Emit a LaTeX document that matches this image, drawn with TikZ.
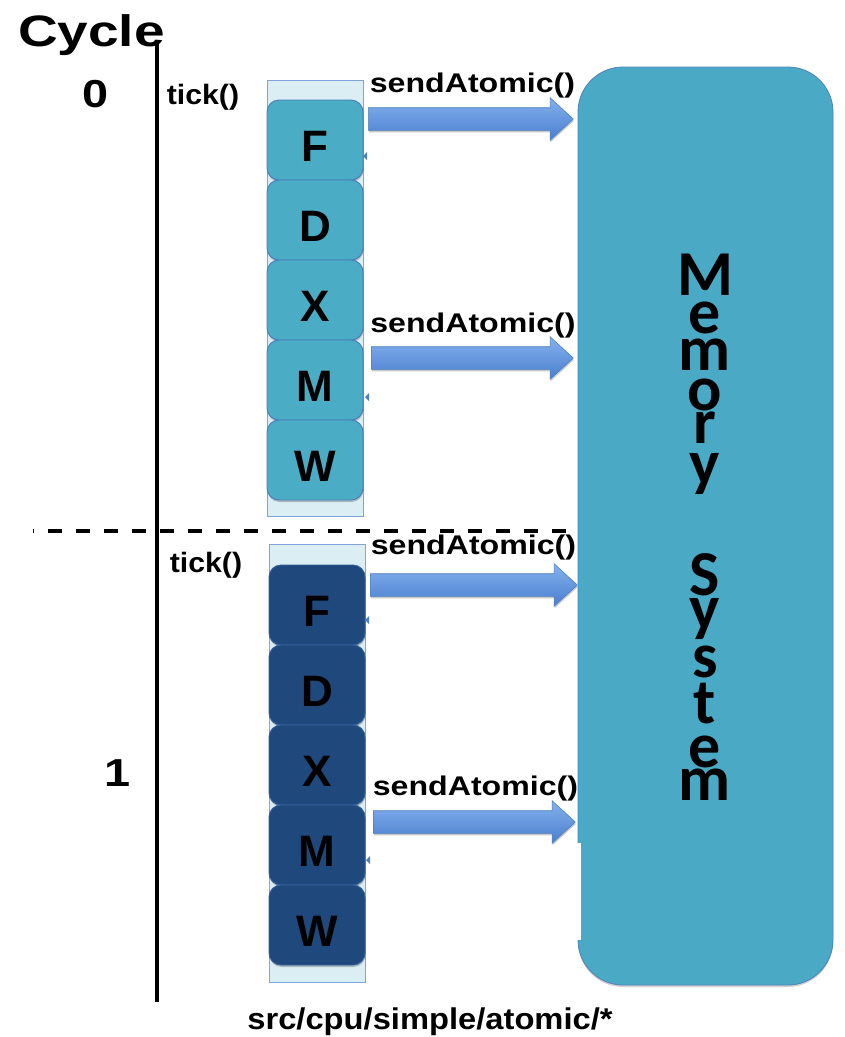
\documentclass[tikz,border=0pt]{standalone}
\usepackage{fontspec}
\usepackage{graphicx}
\setmainfont{Liberation Sans}
\newfontfamily\memfont{Carlito}
\usetikzlibrary{shapes.arrows,shadows}

\definecolor{stageteal}{HTML}{4BACC6}
\definecolor{stagenavy}{HTML}{1F487C}
\definecolor{stageedge}{HTML}{4A7EBB}
\definecolor{navyedge}{HTML}{34629E}
\definecolor{slotfill}{HTML}{DBEEF4}
\definecolor{slotedge}{HTML}{7EA6DC}
\definecolor{arrowtop}{HTML}{84B1EE}
\definecolor{arrowbot}{HTML}{4A7FCF}
\definecolor{arrowedge}{HTML}{4F81BD}
\definecolor{memfill}{HTML}{4AAAC5}

\newcommand\fsz[1]{\fontsize{#1}{#1}\selectfont}
\newcommand\widen[2]{\scalebox{#1}[1]{#2}}
% one letter of a vertical word: #1 is the distance from the previous baseline
\newcommand\stackletter[2]{\vbox to #1{\vss\hbox to 0pt{\hss\smash{#2}\hss}}}

\tikzset{
  softshadow/.style={drop shadow={shadow xshift=0.5pt, shadow yshift=-2pt,
    opacity=0.22, fill=black}},
  lbl/.style={inner sep=0pt, anchor=base, font=\bfseries},
  slot/.style={draw=slotedge, line width=1pt, fill=slotfill, inner sep=0pt,
    minimum width=96pt},
  stagebox/.style={rounded corners=12pt, line width=0.9pt, inner sep=0pt,
    minimum width=96pt, minimum height=80pt, text height=42pt, text depth=0pt,
    font=\bfseries\fsz{44}, softshadow},
  tealstage/.style={stagebox, fill=stageteal, draw=stageedge},
  navystage/.style={stagebox, fill=stagenavy, draw=navyedge},
  callarrow/.style={single arrow, anchor=tail, inner xsep=0pt, inner ysep=11pt,
    single arrow head extend=10pt, single arrow tip angle=85,
    single arrow head indent=0pt, top color=arrowtop, bottom color=arrowbot,
    draw=arrowedge, line width=0.6pt, softshadow},
  memtitle/.style={inner sep=0pt, anchor=north, font=\memfont\bfseries\fsz{64}},
  tinytip/.style={fill=arrowedge},
}

\begin{document}
\begin{tikzpicture}[x=1pt, y=-1pt]
\useasboundingbox (0,0) rectangle (845,1037);

% memory system block
\node[draw=arrowedge, line width=0.8pt, fill=memfill, rounded corners=45pt,
  minimum width=255pt, minimum height=918pt, inner sep=0pt,
  drop shadow={shadow xshift=0pt, shadow yshift=-2pt, opacity=0.18, fill=black}]
  (mem) at (705.5,526) {};
\fill[white] (560,843) rectangle (580.5,940);

% timeline axis and cycle separator
\draw[line width=4pt] (157,40) -- (157,1002);
\draw[line width=4pt, dash pattern=on 14pt off 14pt, dash phase=13pt] (33,531) -- (578,531);

% cycle labels
\node[lbl] (cycle) at (91.5,46) {\fsz{44}\widen{1.25}{Cycle}};
\node[lbl] (c0) at (96,107) {\fsz{39}\widen{1.2}{0}};
\node[lbl] (c1) at (118,786) {\fsz{39}\widen{1.2}{1}};
\node[lbl] (tick0) at (203,104) {\fsz{28}\widen{1.08}{tick()}};
\node[lbl] (tick1) at (206,572) {\fsz{28}\widen{1.08}{tick()}};

% cycle 0 pipeline
\node[slot, minimum height=436pt] (slot0) at (315,298) {};
\node[tealstage] (F0) at (315,140) {F};
\node[tealstage] (D0) at (315,220) {D};
\node[tealstage] (X0) at (315,300) {X};
\node[tealstage] (M0) at (315,380) {M};
\node[tealstage] (W0) at (315,460) {W};

% cycle 1 pipeline
\node[slot, minimum height=438pt] (slot1) at (317,763) {};
\node[navystage] (F1) at (317,605) {F};
\node[navystage] (D1) at (317,685) {D};
\node[navystage] (X1) at (317,765) {X};
\node[navystage] (M1) at (317,845) {M};
\node[navystage] (W1) at (317,925) {W};

% small return marks on the pipeline edge
\fill[tinytip] (367,152) -- (363,156) -- (367,160) -- cycle;
\fill[tinytip] (369,393) -- (365,397) -- (369,401) -- cycle;
\fill[tinytip] (369,616) -- (365,620) -- (369,624) -- cycle;
\fill[tinytip] (370,856) -- (366,860) -- (370,864) -- cycle;

% memory requests
\node[callarrow, minimum height=205pt] (req0a) at (368,119) {};
\node[callarrow, minimum height=202pt] (req0b) at (371,358) {};
\node[callarrow, minimum height=207pt] (req1a) at (370,585) {};
\node[callarrow, minimum height=202pt] (req1b) at (373,822) {};

\node[lbl] (s0a) at (472.5,92) {\fsz{27}\widen{1.19}{sendAtomic()}};
\node[lbl] (s0b) at (473,332) {\fsz{27}\widen{1.19}{sendAtomic()}};
\node[lbl] (s1a) at (473.5,554) {\fsz{27}\widen{1.19}{sendAtomic()}};
\node[lbl] (s1b) at (475.5,795) {\fsz{27}\widen{1.19}{sendAtomic()}};

% vertical title inside the memory block
\node[memtitle] (memtitle) at (705,254) {\vbox{\offinterlineskip
  \stackletter{41pt}{M}\stackletter{38pt}{e}\stackletter{37pt}{m}%
  \stackletter{40pt}{o}\stackletter{33pt}{r}\stackletter{41pt}{y}%
  \stackletter{111pt}{S}\stackletter{34pt}{y}\stackletter{48pt}{s}%
  \stackletter{46pt}{t}\stackletter{44pt}{e}\stackletter{33pt}{m}}};

% source path
\node[lbl] (src) at (430,1029) {\fsz{30}\widen{1.09}{src/cpu/simple/atomic/*}};
\end{tikzpicture}
\end{document}
